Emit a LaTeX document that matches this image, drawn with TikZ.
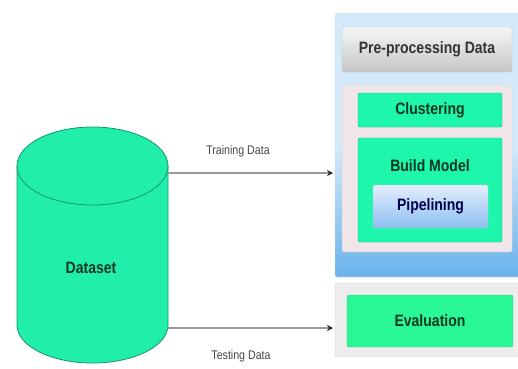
\documentclass[tikz,border=0pt]{standalone}
\usepackage{fontspec}
\newfontfamily\diagfont[FakeStretch=0.85]{Liberation Sans}
\usetikzlibrary{arrows.meta}

\definecolor{cylgreen}{RGB}{34,238,172}
\definecolor{cylline}{RGB}{20,150,110}
\definecolor{boxgreen}{RGB}{30,246,172}
\definecolor{evalgreen}{RGB}{42,248,150}
\definecolor{greenline}{RGB}{25,175,125}
\definecolor{panelblue}{RGB}{212,234,250}
\definecolor{paneldark}{RGB}{105,178,236}
\definecolor{pinkgray}{RGB}{240,229,233}
\definecolor{pipetop}{RGB}{228,238,252}
\definecolor{pipebot}{RGB}{140,190,240}
\definecolor{darktext}{RGB}{12,55,32}

\begin{document}
\begin{tikzpicture}[x=1pt,y=-1pt]

    \tikzset{boxstyle/.style={rectangle,rounded corners=2pt,inner sep=0pt,
                              font=\diagfont\bfseries\fontsize{16.5}{18}\selectfont},
             greenbox/.style={boxstyle,draw=greenline,fill=boxgreen,text=darktext},
             flowlabel/.style={font=\diagfont\fontsize{12.5}{14}\selectfont,text=black!72},
             flow/.style={draw=black!40,line width=2.2pt,
                          -{Stealth[length=6pt,width=6pt,color=black!85]}}}

    \useasboundingbox (0,0) rectangle (518,368);

    % Dataset cylinder
    \draw[cylline,fill=cylgreen,line width=0.8pt] (17,166) -- (17,325)
        arc[start angle=180,end angle=0,x radius=75.5,y radius=38] -- (168,166);
    \draw[cylline,fill=cylgreen,line width=0.8pt] (92.5,166) ellipse[x radius=75.5,y radius=39];
    \node[rectangle,minimum width=151pt,minimum height=236pt,inner sep=0pt] (dataset) at (92.5,245) {};
    \node[boxstyle,text=darktext] (datalbl) at (91,268) {Dataset};

    % right side
    \node[boxstyle,draw=black!15,top color=panelblue,bottom color=paneldark,middle color=panelblue,
          minimum width=187pt,minimum height=264pt] (panel) at (428.5,145) {};
    \node[boxstyle,draw=black!25,top color=black!4,bottom color=black!22,text=black!80,
          minimum width=170pt,minimum height=45pt] (prep) at (427,49.5) {Pre-processing Data};
    \node[boxstyle,draw=black!18,fill=pinkgray,
          minimum width=170pt,minimum height=167pt] (inner) at (427,168.5) {};
    \node[greenbox,minimum width=144pt,minimum height=34pt] (clust) at (430,110) {Clustering};
    \node[greenbox,minimum width=144pt,minimum height=104pt] (build) at (430,190) {};
    \node[boxstyle,text=darktext] (buildlbl) at (430,166) {Build Model};
    \node[boxstyle,draw=black!20,top color=pipetop,bottom color=pipebot,text=blue!30!black,
          minimum width=115pt,minimum height=43pt] (pipe) at (430.5,206.5) {Pipelining};

    \node[boxstyle,draw=red!10!black!20,fill=black!7,
          minimum width=187pt,minimum height=74pt] (evalouter) at (428.5,320) {};
    \node[boxstyle,draw=greenline!80,fill=evalgreen,text=darktext,
          minimum width=166pt,minimum height=52pt] (evalbox) at (430,321) {Evaluation};

    \coordinate (trainin) at (333,173);
    \coordinate (testin) at (333,328);

    \draw[flow] (dataset.east |- trainin) -- (trainin);
    \draw[flow] (dataset.east |- testin) -- (testin);

    \node[flowlabel] (trainlbl) at (238,151) {Training Data};
    \node[flowlabel] (testlbl) at (241,356) {Testing Data};

\end{tikzpicture}
\end{document}
